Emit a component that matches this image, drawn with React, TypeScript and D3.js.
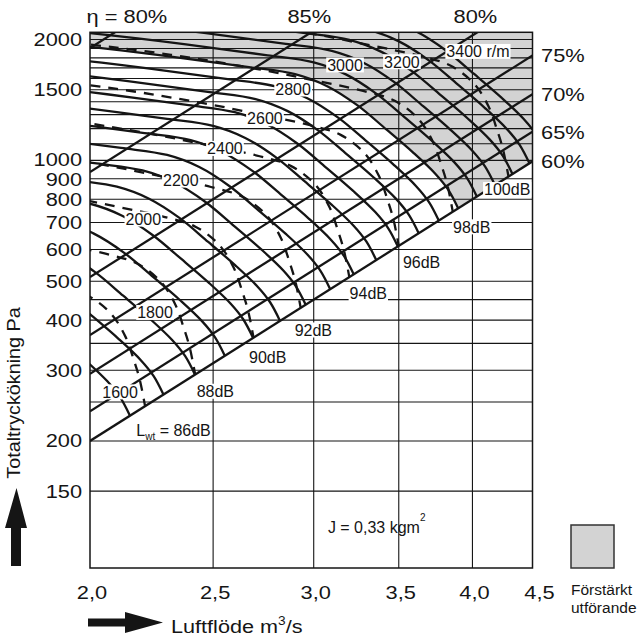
import React, { useRef, useEffect } from "react";
import * as d3 from "d3";

// axes
const flowTicks = [2.0, 2.5, 3.0, 3.5, 4.0, 4.5];
const flowGrid = [2.5, 3.0, 3.5, 4.0];
const pressureTicks = [150, 200, 300, 400, 500, 600, 700, 800, 900, 1000, 1500, 2000];
const pressureGrid = [150, 200, 250, 300, 350, 400, 450, 500, 600, 700, 800, 900, 1000,
  1100, 1200, 1300, 1400, 1500, 1600, 1700, 1800, 1900, 2000];

// fan curve at 1000 r/m (m3/s, Pa); other speeds follow the fan laws
const baseFlow = [0.55, 0.62, 0.69, 0.76, 0.84, 0.92, 1.0, 1.06, 1.12, 1.18, 1.24, 1.29, 1.32, 1.344];
const basePressure = [245, 236, 228, 220, 211, 203, 195, 182, 163, 142, 124, 110, 100.5, 90.3];

const speeds = [1600, 1700, 1800, 1900, 2000, 2100, 2200, 2300, 2400, 2500,
  2600, 2700, 2800, 2900, 3000, 3100, 3200, 3300, 3400];
const reinforcedFrom = 2900;

const speedLabels = ["1600", "1800", "2000", "2200", "2400", "2600", "2800", "3000", "3200", "3400 r/m"];
const speedLabelFlow = [2.112, 2.25, 2.203, 2.358, 2.554, 2.746, 2.89, 3.175, 3.52, 4.04];
const speedLabelPressure = [265, 418, 714, 893, 1071, 1270, 1506, 1729, 1761, 1868];

// efficiency lines p = k*q^2, given by their pressure at 2,0 m3/s
const effLabels = ["80%", "85%", "80%", "75%", "70%", "65%", "60%"];
const effPressureAt2 = [1905, 935, 512, 367, 294, 237, 200];

// sound power lines: shape relative to the end point on the 60% line
const soundU = [0.4, 0.5, 0.6, 0.7, 0.78, 0.85, 0.9, 0.94, 0.965, 0.98, 0.99, 1.0];
const soundV = [2.8, 2.64, 2.46, 2.27, 2.12, 2.0, 1.89, 1.7, 1.49, 1.3, 1.17, 1.0];
const soundLevels = [86, 88, 90, 92, 94, 96, 98, 100];
const soundEndFlow = [2.21, 2.42, 2.69, 2.93, 3.2, 3.5, 3.86, 4.27];
const soundLabelFlow = [2.327, 2.51, 2.76, 2.998, 3.312, 3.648, 3.995, 4.26];
const soundLabelPressure = [213, 266, 324, 378, 466, 556, 683, 846];

function FanChart() {
  const svgRef = useRef<SVGSVGElement>(null);

  useEffect(() => {
    const svg = d3.select(svgRef.current);
    svg.selectAll("*").remove();

    const ink = "#151515";
    const plot = { left: 90, right: 532.5, top: 32.3, bottom: 568 };
    const qMax = 4.46;

    const x = d3.scaleLog().domain([2, qMax]).range([plot.left, plot.right]);
    const y = d3.scaleLog().domain([96.5, 2085]).range([plot.bottom, plot.top]);

    svg.attr("font-family", "'Liberation Sans', Arial, Helvetica, sans-serif");

    svg.append("defs").append("clipPath").attr("id", "plotClip")
      .append("rect")
      .attr("x", plot.left).attr("y", plot.top)
      .attr("width", plot.right - plot.left).attr("height", plot.bottom - plot.top);

    const smooth = d3.line<[number, number]>()
      .x((d) => x(d[0])).y((d) => y(d[1]))
      .curve(d3.curveCatmullRom.alpha(0.5));
    const straight = d3.line<[number, number]>().x((d) => x(d[0])).y((d) => y(d[1]));

    const k60 = effPressureAt2[effPressureAt2.length - 1] / 4;
    const speedCurve = (n: number) =>
      baseFlow.map((f, i) => [(f * n) / 1000, basePressure[i] * (n / 1000) ** 2] as [number, number]);
    const soundCurve = (qEnd: number) =>
      soundU.map((u, i) => [u * qEnd, soundV[i] * k60 * qEnd * qEnd] as [number, number]);

    const inner = svg.append("g").attr("clip-path", "url(#plotClip)");

    // reinforced design area
    const qR = qMax * 1.02;
    inner.append("path")
      .attr("d",
        smooth(speedCurve(reinforcedFrom)) +
          `L${x(qR)},${y(k60 * qR * qR)}L${x(qR)},${plot.top - 10}L${plot.left - 10},${plot.top - 10}Z`)
      .attr("fill", "#d3d3d3");

    // grid
    inner.append("g").selectAll("line").data(pressureGrid).join("line")
      .attr("x1", plot.left).attr("x2", plot.right)
      .attr("y1", (d) => y(d)).attr("y2", (d) => y(d))
      .attr("stroke", ink).attr("stroke-width", 1.1);
    inner.append("g").selectAll("line").data(flowGrid).join("line")
      .attr("x1", (d) => x(d)).attr("x2", (d) => x(d))
      .attr("y1", plot.top).attr("y2", plot.bottom)
      .attr("stroke", ink).attr("stroke-width", 1.1);

    // fan speed curves
    inner.append("g").selectAll("path").data(speeds).join("path")
      .attr("d", (n) => smooth(speedCurve(n)))
      .attr("fill", "none").attr("stroke", ink).attr("stroke-width", 2.3);

    // efficiency lines
    inner.append("g").selectAll("path").data(effPressureAt2).join("path")
      .attr("d", (p2) => straight([[2, p2], [qMax, p2 * (qMax / 2) ** 2]]))
      .attr("fill", "none").attr("stroke", ink).attr("stroke-width", 2.3);

    // sound power lines
    inner.append("g").selectAll("path").data(soundEndFlow).join("path")
      .attr("d", (q) => smooth(soundCurve(q)))
      .attr("fill", "none").attr("stroke", ink).attr("stroke-width", 2.3)
      .attr("stroke-dasharray", "10,8");

    svg.append("rect")
      .attr("x", plot.left).attr("y", plot.top)
      .attr("width", plot.right - plot.left).attr("height", plot.bottom - plot.top)
      .attr("fill", "none").attr("stroke", ink).attr("stroke-width", 1.5);

    // boxed labels in the plot
    const boxed = (cx: number, cy: number, build: (t: d3.Selection<SVGTextElement, unknown, null, undefined>) => void) => {
      const g = svg.append("g");
      const t = g.append("text")
        .attr("x", cx).attr("y", cy).attr("dy", "0.36em")
        .attr("text-anchor", "middle").attr("font-size", 16).attr("fill", ink);
      build(t);
      const bb = (t.node() as SVGTextElement).getBBox();
      g.insert("rect", "text")
        .attr("x", bb.x - 1).attr("y", cy - 7.5)
        .attr("width", bb.width + 2).attr("height", 15)
        .attr("fill", "#fff");
    };

    speedLabels.forEach((s, i) => {
      boxed(x(speedLabelFlow[i]), y(speedLabelPressure[i]), (t) => t.text(s));
    });

    soundLevels.forEach((db, i) => {
      boxed(x(soundLabelFlow[i]), y(soundLabelPressure[i]), (t) => {
        if (i === 0) {
          t.append("tspan").text("L");
          t.append("tspan").attr("font-size", 10).attr("dy", 4).text("wt");
          t.append("tspan").attr("dy", -4).text(` = ${db}dB`);
        } else {
          t.text(`${db}dB`);
        }
      });
    });

    // moment of inertia note
    const note = svg.append("text")
      .attr("x", x(3.078)).attr("y", y(118))
      .attr("font-size", 16).attr("fill", ink);
    note.append("tspan").text("J = 0,33 kgm");
    note.append("tspan").attr("font-size", 10).attr("dy", -12).text("2");

    // big labels, slightly wide like the original
    const wide = (px: number, py: number, anchor: string, size = 19, sx = 1.15) =>
      svg.append("text")
        .attr("transform", `translate(${px},${py}) scale(${sx},1)`)
        .attr("text-anchor", anchor).attr("font-size", size).attr("fill", ink);

    pressureTicks.forEach((p) => {
      const nudge = p === 1000 ? -1 : p === 900 ? 1 : 0;
      wide(82, y(p) + nudge, "end", 18, 1.21).attr("dy", "0.36em").text(String(p));
    });
    flowTicks.forEach((q) => {
      wide(x(q) + 2, 599, "middle").text(q.toFixed(1).replace(".", ","));
    });

    effLabels.forEach((lab, i) => {
      const p2 = effPressureAt2[i];
      const qTop = 2 * Math.sqrt(2085 / p2);
      if (qTop < qMax) {
        const label = i === 0 ? `η = ${lab}` : lab;
        wide(x(qTop) + (i === 0 ? 12 : -2), 23, "middle").text(label);
      } else {
        wide(541, y(p2 * (qMax / 2) ** 2), "start").attr("dy", "0.36em").text(lab);
      }
    });

    // axis titles
    wide(20, 393, "middle", 19, 1.04)
      .attr("transform", "translate(20,393) rotate(-90) scale(1.04,1)")
      .text("Totaltryckökning Pa");
    const xt = wide(171, 633, "start", 19, 1.14);
    xt.append("tspan").text("Luftflöde m");
    xt.append("tspan").attr("font-size", 12).attr("dy", -8).text("3");
    xt.append("tspan").attr("dy", 8).text("/s");

    // arrows
    svg.append("path")
      .attr("d", "M11,566 L11,528 L5,528 L16.5,488 L27,528 L21,528 L21,566 Z")
      .attr("fill", ink);
    svg.append("path")
      .attr("d", "M88,618.5 L125,618.5 L125,612 L163,622.5 L125,633 L125,626.5 L88,626.5 Z")
      .attr("fill", ink);

    // legend
    svg.append("rect")
      .attr("x", 571).attr("y", 525).attr("width", 43).attr("height", 43)
      .attr("fill", "#d3d3d3").attr("stroke", "#333").attr("stroke-width", 1.5);
    svg.append("text").attr("x", 571).attr("y", 595)
      .attr("font-size", 15.5).attr("fill", ink).text("Förstärkt");
    svg.append("text").attr("x", 571).attr("y", 613)
      .attr("font-size", 15.5).attr("fill", ink).text("utförande");
  }, []);

  return (
    <svg
      ref={svgRef}
      width={640}
      height={638}
      style={{ position: "absolute", left: 0, top: 0, background: "#fff" }}
    />
  );
}

export default function App() {
  return <FanChart />;
}
